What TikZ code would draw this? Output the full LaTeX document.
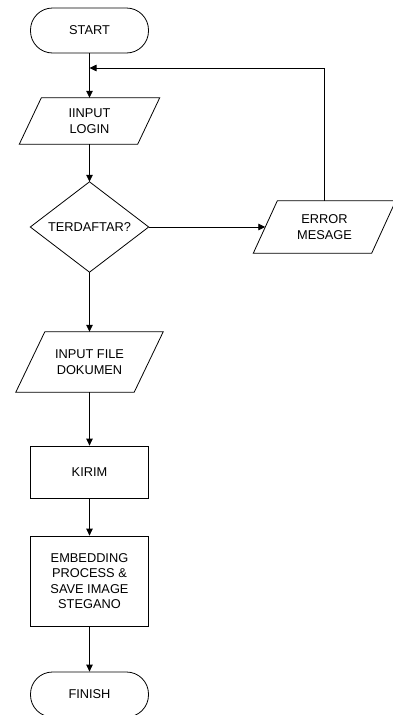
\documentclass[tikz,border=0pt]{standalone}
\usepackage{fontspec}
\setmainfont{Liberation Sans}
\usetikzlibrary{arrows.meta}
\begin{document}
\begin{tikzpicture}[x=1pt,y=-1pt,
  every node/.style={font=\fontsize{12.8}{15.6}\selectfont, align=center, inner sep=0pt},
  term/.style={draw, line width=0.8pt, rounded corners=22pt, minimum width=118pt, minimum height=45pt},
  procbox/.style={draw, line width=0.8pt, minimum width=118pt},
  iobox/.style={minimum width=118pt},
  decbox/.style={minimum width=118pt, minimum height=90pt},
  outline/.style={line width=0.8pt},
  conn/.style={line width=0.8pt, -{Triangle[length=7pt,width=6.5pt]}},
  plain/.style={line width=0.8pt}]
\useasboundingbox (0,0) rectangle (393,715);
\clip (0,0) rectangle (393,715);

\node[term] (start) at (89.5,30.5) {START};

\node[iobox, minimum height=46pt] (login) at (89.5,121) {IINPUT\\LOGIN};
\draw[outline] ([xshift=11pt]login.north west) -- ([xshift=11pt]login.north east)
  -- ([xshift=-11pt]login.south east) -- ([xshift=-11pt]login.south west) -- cycle;

\node[decbox] (dec) at (89.5,227) {TERDAFTAR?};
\draw[outline] (dec.north) -- (dec.east) -- (dec.south) -- (dec.west) -- cycle;

\node[iobox, minimum height=52pt] (err) at (324.5,227) {ERROR\\MESAGE};
\draw[outline] ([xshift=12pt]err.north west) -- ([xshift=12pt]err.north east)
  -- ([xshift=-12pt]err.south east) -- ([xshift=-12pt]err.south west) -- cycle;

\node[iobox, minimum height=60pt] (file) at (89.5,362) {INPUT FILE\\DOKUMEN};
\draw[outline] ([xshift=14.5pt]file.north west) -- ([xshift=14.5pt]file.north east)
  -- ([xshift=-14.5pt]file.south east) -- ([xshift=-14.5pt]file.south west) -- cycle;

\node[procbox, minimum height=52pt] (kirim) at (89.5,472) {KIRIM};

\node[procbox, minimum height=90pt] (embed) at (89.5,581) {EMBEDDING\\PROCESS \&\\SAVE IMAGE\\STEGANO};

\node[term] (finish) at (89.5,694.5) {FINISH};

\coordinate (join) at (89.5,68);
\coordinate (corner) at (err.north |- join);

\draw[conn] (start.south) -- (login.north);
\draw[conn] (login.south) -- (dec.north);
\draw[conn] (dec.east) -- (err.west);
\draw[conn] (err.north) -- (corner) -- (join);
\draw[conn] (dec.south) -- (file.north);
\draw[conn] (file.south) -- (kirim.north);
\draw[conn] (kirim.south) -- (embed.north);
\draw[conn] (embed.south) -- (finish.north);
\end{tikzpicture}
\end{document}
